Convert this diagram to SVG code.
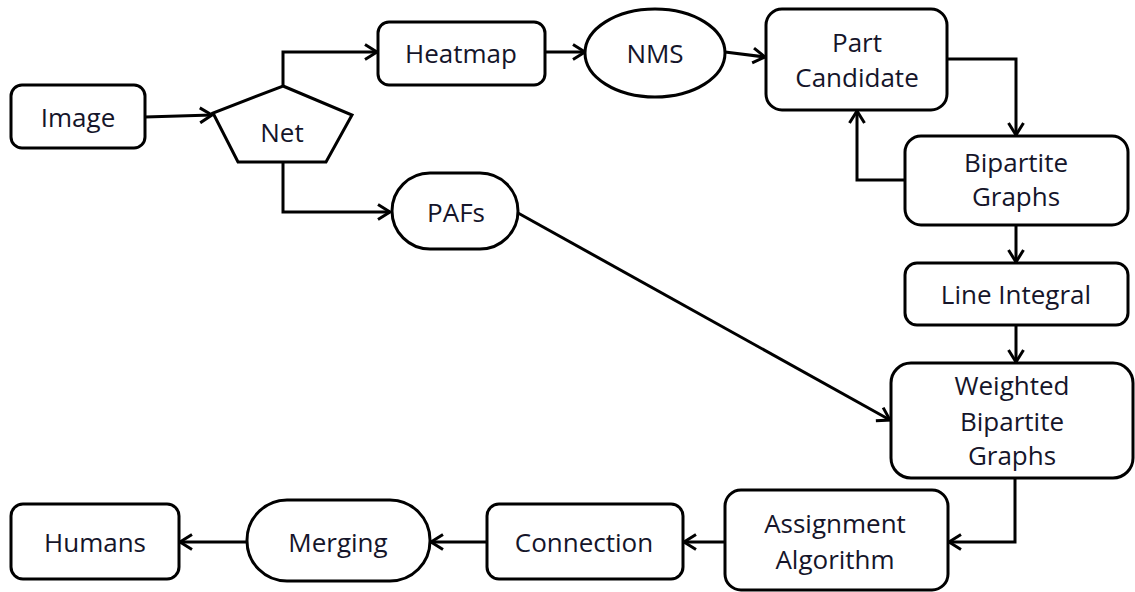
<svg xmlns="http://www.w3.org/2000/svg" width="1135" height="592" viewBox="0 0 1135 592">
<defs>
<style>
.n{fill:#fff;stroke:#000;stroke-width:3}
.t{font-family:"Open Sans","Noto Sans",sans-serif;font-size:26px;fill:#15152a;text-anchor:middle}
.c{fill:none;stroke:#000;stroke-width:3}
</style>
<marker id="ah" viewBox="0 0 16 18" refX="14" refY="9" markerWidth="16" markerHeight="18" markerUnits="userSpaceOnUse" orient="auto">
<path d="M2,1.5 L14,9 L2,16.5" fill="none" stroke="#000" stroke-width="3" stroke-linejoin="miter"/>
</marker>
</defs>
<rect width="1135" height="592" fill="#fff"/>
<g id="connectors">
<path class="c" d="M145,117 L212,115" marker-end="url(#ah)"/>
<path class="c" d="M283,86 V52 H377" marker-end="url(#ah)"/>
<path class="c" d="M283,162 V212 H390" marker-end="url(#ah)"/>
<path class="c" d="M545,52 H585" marker-end="url(#ah)"/>
<path class="c" d="M725,52 L765,57" marker-end="url(#ah)"/>
<path class="c" d="M947,59 H1016 V135" marker-end="url(#ah)"/>
<path class="c" d="M905,180 H857 V111" marker-end="url(#ah)"/>
<path class="c" d="M1016,225 V262" marker-end="url(#ah)"/>
<path class="c" d="M1016,325 V362" marker-end="url(#ah)"/>
<path class="c" d="M518,213 L890,420" marker-end="url(#ah)"/>
<path class="c" d="M1015,478 V542 H949" marker-end="url(#ah)"/>
<path class="c" d="M725,542 H684" marker-end="url(#ah)"/>
<path class="c" d="M487,542 H431" marker-end="url(#ah)"/>
<path class="c" d="M247,542 H180" marker-end="url(#ah)"/>
</g>
<g id="image"><rect class="n" x="11" y="85" width="134" height="63" rx="11"/><text class="t" x="78" y="127">Image</text></g>
<g id="net"><polygon class="n" points="283,86 352,115 326,162 238,162 213,113"/><text class="t" x="282" y="142">Net</text></g>
<g id="heatmap"><rect class="n" x="378" y="22" width="167" height="63" rx="11"/><text class="t" x="461" y="63">Heatmap</text></g>
<g id="nms"><ellipse class="n" cx="655" cy="53" rx="70" ry="44"/><text class="t" x="655" y="63">NMS</text></g>
<g id="part-candidate"><rect class="n" x="766" y="9" width="181" height="101" rx="16"/><text class="t" x="857" y="52">Part</text><text class="t" x="857" y="87">Candidate</text></g>
<g id="pafs"><rect class="n" x="392" y="173" width="126" height="76" rx="38"/><text class="t" x="456" y="222">PAFs</text></g>
<g id="bipartite-graphs"><rect class="n" x="905" y="136" width="223" height="89" rx="16"/><text class="t" x="1016" y="172">Bipartite</text><text class="t" x="1016" y="206">Graphs</text></g>
<g id="line-integral"><rect class="n" x="905" y="263" width="223" height="62" rx="12"/><text class="t" x="1016" y="304">Line Integral</text></g>
<g id="weighted-bipartite-graphs"><rect class="n" x="891" y="363" width="242" height="115" rx="20"/><text class="t" x="1012" y="395">Weighted</text><text class="t" x="1012" y="431">Bipartite</text><text class="t" x="1012" y="465">Graphs</text></g>
<g id="assignment-algorithm"><rect class="n" x="725" y="490" width="223" height="100" rx="16"/><text class="t" x="835" y="533">Assignment</text><text class="t" x="835" y="569">Algorithm</text></g>
<g id="connection"><rect class="n" x="487" y="504" width="196" height="75" rx="12"/><text class="t" x="584" y="552">Connection</text></g>
<g id="merging"><rect class="n" x="247" y="500" width="183" height="81" rx="40"/><text class="t" x="338" y="552">Merging</text></g>
<g id="humans"><rect class="n" x="11" y="504" width="168" height="75" rx="12"/><text class="t" x="95" y="552">Humans</text></g>
</svg>
